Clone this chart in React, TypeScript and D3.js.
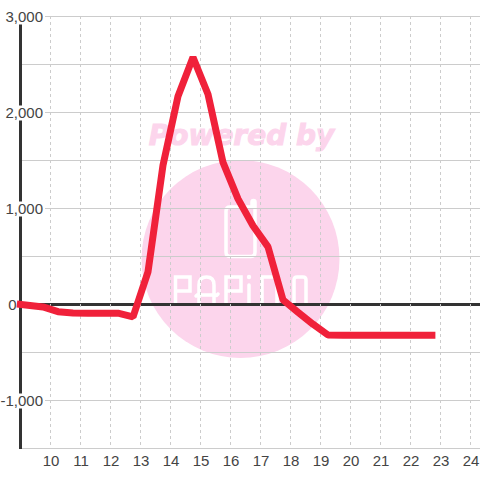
import React from "react";
import * as d3 from "d3";

const hours = [8.88, 9.75, 10.25, 10.75, 11.25, 11.75, 12.25, 12.75, 13.25, 13.75, 14.25, 14.75, 15.25, 15.75, 16.25, 16.75, 17.25, 17.75, 18.25, 18.75, 19.25, 19.75, 20.25, 20.75, 21.25, 21.75, 22.25, 22.83];
const values = [5, -25, -75, -88, -90, -90, -90, -130, 340, 1450, 2170, 2575, 2190, 1480, 1100, 820, 600, 48, -80, -205, -318, -320, -320, -320, -320, -320, -320, -320];
const xTicks = [10, 11, 12, 13, 14, 15, 16, 17, 18, 19, 20, 21, 22, 23, 24];
const yTicks = [-1500, -1000, -500, 0, 500, 1000, 1500, 2000, 2500, 3000];
const yLabels = [-1000, 0, 1000, 2000, 3000];

const logoPaths = [
  "M252 207 H230 Q226 207 226 211 V252 Q226 256.5 230 256.5 H251 Q255 256.5 255 252 V202 A1.5 1.5 0 0 0 252 202 V207",
  "M175.5 303 V277 H190 V291 H175.5",
  "M199 303 V285 Q199 277 206.5 277 Q214 277 214 285 V303 M196 296 Q198 293 202 295 H212 Q216 297 218 294",
  "M226 303 V277 H241 V291 H226",
  "M249 303 V285",
  "M262 303 V277 H274 Q277 277 277 280 V303",
  "M294 303 V280 Q294 277 297 277 H303 Q306 277 306 280 V303",
];

const labelText = (t: number) => d3.format(",")(t).replace("\u2212", "-");
const labelWidth = (s: string) => Array.from(s).reduce((w, c) => w + (c === "," ? 4.2 : c === "-" ? 5 : 8.34), 0);

export default function App() {
  const x = d3.scaleLinear().domain([9, 24]).range([20.5, 470.5]);
  const y = d3.scaleLinear().domain([-1500, 3000]).range([448.5, 16.5]);
  const line = d3.line<number>().x((_, i) => x(hours[i])).y((d) => y(d));
  const font = "'Liberation Sans', Arial, sans-serif";
  return (
    <svg width={480} height={480} style={{ position: "absolute", left: 0, top: 0, background: "#fff" }}>
      <circle cx={240.5} cy={259} r={99} fill="#fcd5ec" />
      <text x={241.5} y={145} textAnchor="middle" fontFamily="'DejaVu Sans'" fontWeight="bold" fontStyle="italic" fontSize={28} fill="#fcd5ec" stroke="#fcd5ec" strokeWidth={1}>Powered by</text>
      {logoPaths.map((d, i) => (
        <path key={i} d={d} fill="none" stroke="#fff" strokeWidth={3.5} strokeLinecap="round" />
      ))}
      <circle cx={249} cy={277} r={2.2} fill="#fff" />
      {yTicks.map((t) => (
        <line key={t} x1={20} x2={480} y1={y(t)} y2={y(t)} stroke={t === 0 ? "#333" : "#ccc"} strokeWidth={t === 0 ? 3 : 1} />
      ))}
      {xTicks.map((t) => (
        <line key={t} x1={x(t)} x2={x(t)} y1={16} y2={448} stroke="#ccc" strokeWidth={1} strokeDasharray="3 3" />
      ))}
      <line x1={20.5} x2={20.5} y1={16} y2={449} stroke="#333" strokeWidth={3} />
      {yLabels.map((t) => {
        const s = labelText(t);
        const w = labelWidth(s);
        const right = t === 0 ? 16.5 : 43;
        return (
          <g key={t}>
            {t !== 0 && <rect x={right - w - 1} y={y(t) - 7} width={w + 3} height={15} fill="#fff" />}
            <text x={right} y={y(t) + 5.5} textAnchor="end" fontFamily={font} fontSize={15} fill="#444">{s}</text>
          </g>
        );
      })}
      {xTicks.map((t) => (
        <text key={t} x={x(t) + 0.5} y={466} textAnchor="middle" fontFamily={font} fontSize={15} fill="#444">{t}</text>
      ))}
      <path d={line(values) ?? ""} fill="none" stroke="#f0213a" strokeWidth={7} strokeLinejoin="bevel" />
    </svg>
  );
}
